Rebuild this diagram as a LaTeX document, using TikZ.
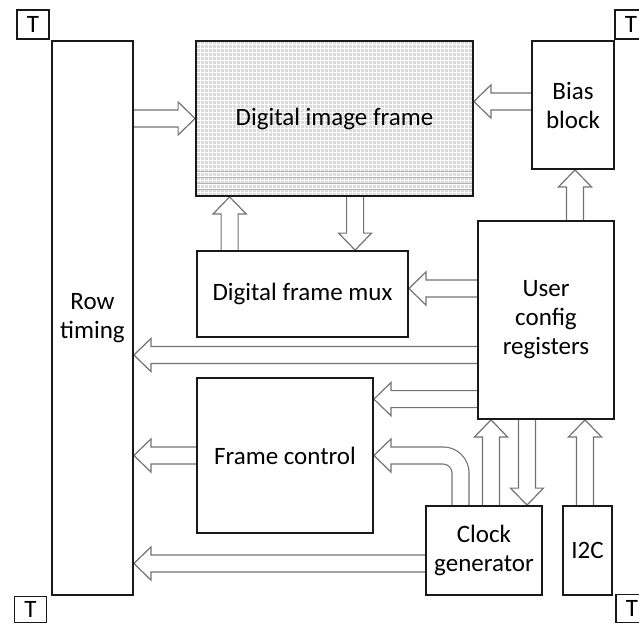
\documentclass[tikz,border=0pt]{standalone}
\usepackage{fontspec}
\setmainfont{Carlito}
\usetikzlibrary{calc,backgrounds}

% Hollow block arrow from #1 to the tip at #2
\newcommand\blockarrow[2]{%
  \draw[pipe] let \p1=(#1), \p2=(#2),
      \n1={veclen(\x2-\x1,\y2-\y1)}, \n2={atan2(\y2-\y1,\x2-\x1)} in
    [shift={(\p1)}, rotate=\n2]
    (0pt,8.5pt) -- ({\n1*1pt-17pt},8.5pt) -- ({\n1*1pt-17pt},16.5pt)
    -- ({\n1*1pt},0pt)
    -- ({\n1*1pt-17pt},-16.5pt) -- ({\n1*1pt-17pt},-8.5pt) -- (0pt,-8.5pt);%
}

\begin{document}
\begin{tikzpicture}[x=1pt,y=-1pt,
  box/.style={draw=black!90, line width=1.8pt, inner sep=0pt, align=center,
    text=black, font=\fontsize{25}{29}\selectfont},
  tbox/.style={draw=black!90, line width=1.5pt, minimum width=32pt,
    minimum height=29pt, inner sep=0pt, text=black,
    font=\fontsize{25}{25}\selectfont},
  pipe/.style={draw=black!55, line width=1.2pt, fill=white, line join=miter},
  pipebody/.style={draw=black!55, line width=1.2pt, double=white,
    double distance=15.8pt}
]
\useasboundingbox (0,0) rectangle (639,624);

% corner markers
\node[tbox] (tl) at (33,24.5) {T};
\node[tbox] (tr) at (631,24.5) {T};
\node[tbox, minimum height=26pt] (bl) at (30.5,609.5) {T};
\node[tbox, minimum height=28pt] (br) at (632,608.5) {T};

% blocks
\node[box, minimum width=81pt,  minimum height=554pt] (rt)   at (92.5,318)  {Row\\timing};
\node[box, minimum width=277pt, minimum height=155pt] (frame) at (334.5,118.5) {Digital image frame};
\node[box, minimum width=82pt,  minimum height=128pt] (bias) at (573,105)   {Bias\\block};
\node[box, minimum width=211pt, minimum height=86pt]  (mux)  at (302.5,294) {Digital frame mux};
\node[box, minimum width=136pt, minimum height=198pt] (ucr)  at (546,320)   {User\\config\\registers};
\node[box, minimum width=176pt, minimum height=155pt] (fc)   at (285,455.5) {Frame control};
\node[box, minimum width=116pt, minimum height=89pt]  (cg)   at (484,550.5) {Clock\\generator};
\node[box, minimum width=49pt,  minimum height=89pt]  (i2c)  at (587.5,550.5) {I2C};

% textured pixel array
\begin{scope}[on background layer]
  \fill[black!14] (frame.north west) rectangle (frame.south east);
  \begin{scope}
    \clip (frame.north west) rectangle (frame.south east);
    \draw[white, line width=0.7pt, step=4pt] (frame.north west) grid (frame.south east);
    \foreach \yy in {171,177,183,189}
      \draw[black!30, line width=0.6pt] (196,\yy) -- (473,\yy);
  \end{scope}
\end{scope}

% anchor points for the connectors
\coordinate (a2)  at ([yshift=3.5pt]bias.west);
\coordinate (a3)  at ([xshift=2pt]bias.south);
\coordinate (a4)  at ([xshift=33.5pt]mux.north west);
\coordinate (a5)  at ([xshift=159pt]mux.north west);
\coordinate (a6)  at ([yshift=5.5pt]mux.east);
\coordinate (a7)  at ([yshift=-35pt]ucr.west);
\coordinate (a8)  at ([yshift=-22pt]fc.north east);
\coordinate (a10) at ([yshift=-13pt]cg.west);
\coordinate (a11) at ([xshift=7pt]cg.north);
\coordinate (a12) at ([xshift=43pt]cg.north);
\coordinate (a13) at ([xshift=-2.5pt]i2c.north);
\coordinate (a14) at ([xshift=-23.5pt]cg.north);
\coordinate (h14) at ([xshift=18pt]fc.east);

\begin{scope}[on background layer]
  \blockarrow{rt.east |- frame.west}{frame.west}
  \blockarrow{a2}{frame.east |- a2}
  \blockarrow{a3 |- ucr.north}{a3}
  \blockarrow{a4}{a4 |- frame.south}
  \blockarrow{a5 |- frame.south}{a5}
  \blockarrow{ucr.west |- a6}{a6}
  \blockarrow{a7}{rt.east |- a7}
  \blockarrow{ucr.west |- a8}{a8}
  \blockarrow{fc.west}{rt.east |- fc.west}
  \blockarrow{a10}{rt.east |- a10}
  \blockarrow{a11}{a11 |- ucr.south}
  \blockarrow{a12 |- ucr.south}{a12}
  \blockarrow{a13}{a13 |- ucr.south}
  % bent bus from the clock generator into frame control
  \draw[pipebody, rounded corners=17.5pt] (a14) -- (a14 |- h14) -- (h14);
  \blockarrow{h14}{fc.east}
\end{scope}
\end{tikzpicture}
\end{document}
